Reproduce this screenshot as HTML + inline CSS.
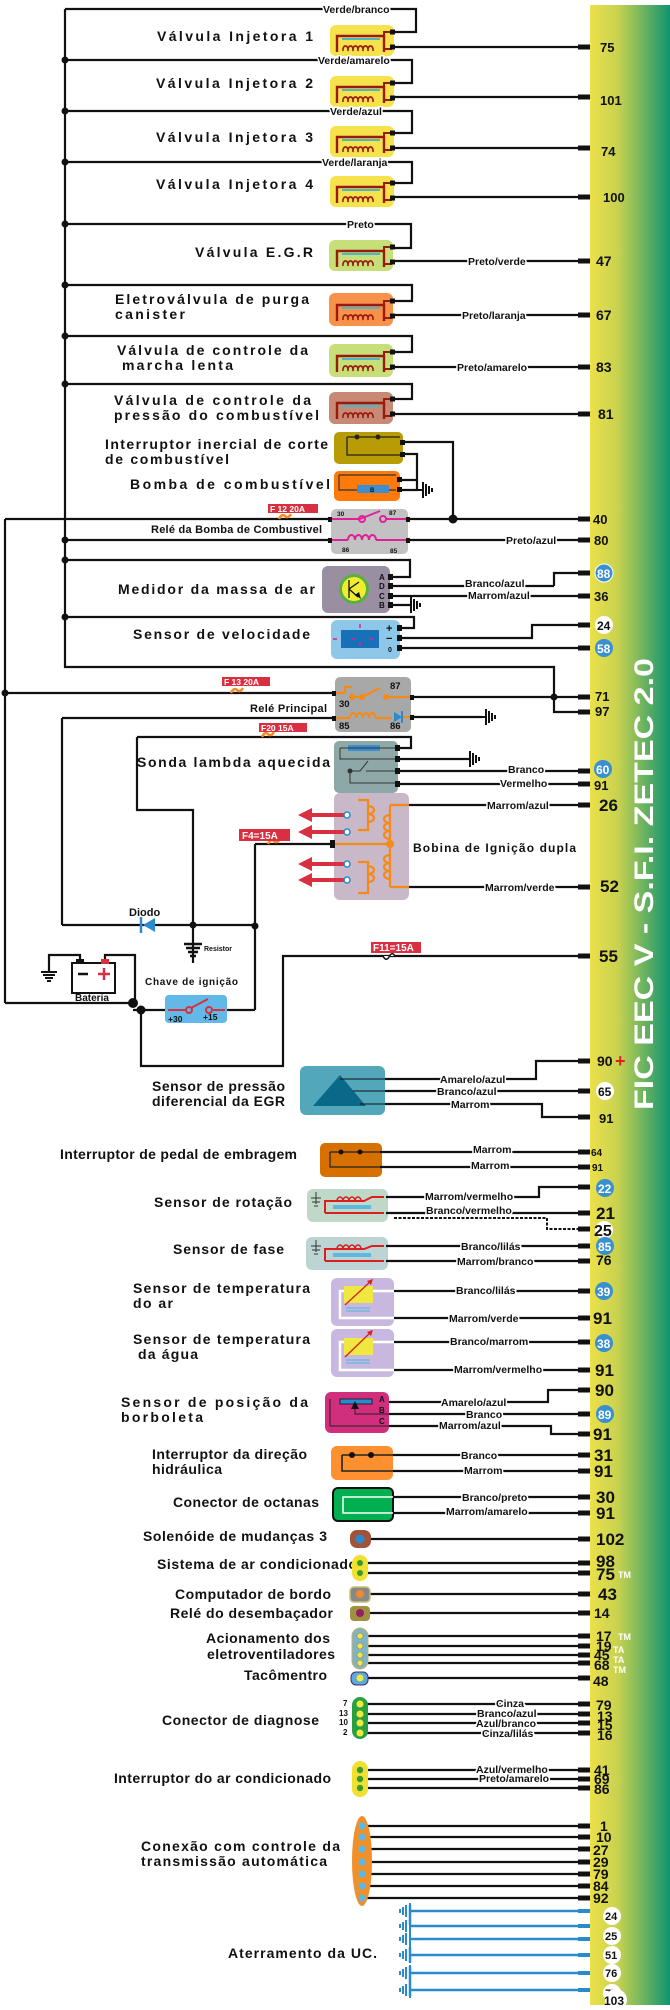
<!DOCTYPE html>
<html><head><meta charset="utf-8"><style>
html,body{margin:0;padding:0;background:#fff;width:670px;height:2010px;overflow:hidden}
svg{display:block}
text{font-family:"Liberation Sans",sans-serif;font-weight:bold;fill:#111}
.L{font-size:14px}
.w{font-size:10.5px;stroke:#fff;stroke-width:3;paint-order:stroke}
.n{font-size:13px}
.N{font-size:17px}
.k{stroke:#111;stroke-width:2.2;fill:none}
</style></head><body>
<svg width="670" height="2010" viewBox="0 0 670 2010" xmlns="http://www.w3.org/2000/svg">
<defs>
<linearGradient id="bar" x1="0" x2="1" y1="0" y2="0">
<stop offset="0" stop-color="#ece04a"/><stop offset="0.35" stop-color="#c8d250"/><stop offset="1" stop-color="#0e9470"/></linearGradient>
<symbol id="coil" overflow="visible">
<path d="M8 27V11H55V27" stroke="#9a1a10" stroke-width="2.4" fill="none"/>
<line x1="13" y1="14" x2="51" y2="14" stroke="#4ab8c8" stroke-width="2"/>
<path d="M14 26a2.6 4 0 1 1 5 0a2.6 4 0 1 1 5 0a2.6 4 0 1 1 5 0a2.6 4 0 1 1 5 0a2.6 4 0 1 1 5 0a2.6 4 0 1 1 5 0" stroke="#9a1a10" fill="none" stroke-width="1.6"/>
<path d="M55 11V7H63M55 24H63" stroke="#9a1a10" stroke-width="2" fill="none"/>
<rect x="61" y="4.5" width="5" height="5" fill="#111"/><rect x="61" y="19.5" width="5" height="5" fill="#111"/>
</symbol>
<symbol id="gnd" overflow="visible">
<path d="M0 0H6M6 -8V8M9 -6V6M12 -4V4M15 -2V2" stroke="#111" stroke-width="2" fill="none"/></symbol>
<symbol id="stub" overflow="visible"><rect x="-12" y="-2.5" width="12" height="5" fill="#111"/></symbol>
<symbol id="bgnd" overflow="visible">
<path d="M0 -8V8M-4 -6V6M-7 -4V4M-10 -2V2" stroke="#2a8ad0" stroke-width="2" fill="none"/></symbol>
</defs>

<!-- ECU bar -->
<rect x="590" y="5" width="80" height="2000" fill="url(#bar)"/>
<text transform="translate(653,1110) rotate(-90)" font-size="27" style="fill:#fff" textLength="452" lengthAdjust="spacingAndGlyphs">FIC EEC V - S.F.I. ZETEC 2.0</text>

<!-- main bus -->
<path class="k" d="M65 9V667H554V712H588"/>
<path class="k" d="M5 519V1003"/>
<g fill="#111">
<circle cx="65" cy="60" r="3.5"/><circle cx="65" cy="111" r="3.5"/><circle cx="65" cy="162" r="3.5"/><circle cx="65" cy="224" r="3.5"/><circle cx="65" cy="285" r="3.5"/><circle cx="65" cy="336" r="3.5"/><circle cx="65" cy="384" r="3.5"/><circle cx="65" cy="540" r="3.5"/><circle cx="65" cy="560" r="3.5"/><circle cx="65" cy="617" r="3.5"/>
</g>

<!-- injectors & valves -->
<g>
<path class="k" d="M65 9H416V32H393"/><path class="k" d="M393 47H588"/>
<rect x="330" y="25" width="64" height="31" rx="6" fill="#f6e24a"/><use href="#coil" x="329" y="25"/>
<text class="w" x="323" y="13">Verde/branco</text>
<text class="L" x="157" y="41" textLength="156" font-size="15">Válvula Injetora 1</text>

<path class="k" d="M65 60H412V83H393"/><path class="k" d="M393 97H588"/>
<rect x="330" y="76" width="64" height="31" rx="6" fill="#f6e24a"/><use href="#coil" x="329" y="76"/>
<text class="w" x="318" y="64">Verde/amarelo</text>
<text class="L" x="156" y="88" textLength="157">Válvula Injetora 2</text>

<path class="k" d="M65 111H412V133H393"/><path class="k" d="M393 148H588"/>
<rect x="330" y="126" width="64" height="31" rx="6" fill="#f6e24a"/><use href="#coil" x="329" y="126"/>
<text class="w" x="330" y="115">Verde/azul</text>
<text class="L" x="156" y="142" textLength="157">Válvula Injetora 3</text>

<path class="k" d="M65 162H412V183H393"/><path class="k" d="M393 197H588"/>
<rect x="330" y="176" width="64" height="31" rx="6" fill="#f6e24a"/><use href="#coil" x="329" y="176"/>
<text class="w" x="322" y="166">Verde/laranja</text>
<text class="L" x="156" y="189" textLength="157">Válvula Injetora 4</text>

<path class="k" d="M65 224H411V248H393"/><path class="k" d="M393 261H588"/>
<rect x="329" y="240" width="64" height="31" rx="6" fill="#c6df78"/><use href="#coil" x="329" y="240"/>
<text class="w" x="347" y="228">Preto</text><text class="w" x="468" y="265">Preto/verde</text>
<text class="L" x="195" y="257" textLength="118">Válvula E.G.R</text>

<path class="k" d="M65 285H412V301H393"/><path class="k" d="M393 315H588"/>
<rect x="329" y="293" width="64" height="33" rx="6" fill="#f8924a"/><use href="#coil" x="329" y="294"/>
<text class="w" x="462" y="319">Preto/laranja</text>
<text class="L" x="115" y="304" textLength="194">Eletroválvula de purga</text>
<text class="L" x="115" y="319" textLength="70">canister</text>

<path class="k" d="M65 336H412V352H393"/><path class="k" d="M393 367H588"/>
<rect x="329" y="344" width="64" height="33" rx="6" fill="#c6df78"/><use href="#coil" x="329" y="345"/>
<text class="w" x="457" y="371">Preto/amarelo</text>
<text class="L" x="117" y="355" textLength="191">Válvula de controle da</text>
<text class="L" x="122" y="370" textLength="111">marcha lenta</text>

<path class="k" d="M65 384H412V399H393"/><path class="k" d="M393 414H588"/>
<rect x="329" y="392" width="64" height="32" rx="6" fill="#c88a74"/><use href="#coil" x="329" y="392"/>
<text class="L" x="114" y="405" textLength="197">Válvula de  controle da</text>
<text class="L" x="114" y="420" textLength="205">pressão do combustível</text>
</g>

<!-- inertial switch & pump -->
<rect x="334" y="432" width="69" height="32" rx="5" fill="#b89c06"/>
<path d="M347 437H385M347 437V455H400M355 437M385 437H400" stroke="#222" stroke-width="1.3" fill="none"/>
<circle cx="357" cy="437" r="2.5" fill="#222"/><circle cx="378" cy="437" r="2.5" fill="#222"/>
<rect x="400" y="440" width="5" height="5" fill="#111"/><rect x="400" y="452" width="5" height="5" fill="#111"/>
<path class="k" d="M403 442H453V519"/><path class="k" d="M403 454H417V490H399M399 480H417"/>
<rect x="334" y="471" width="66" height="30" rx="5" fill="#ff7a08"/>
<path d="M339 475H396M339 475V490H396" stroke="#333" stroke-width="1.2" fill="none"/>
<rect x="357" y="485" width="32" height="8" fill="#3c8ed0"/><text x="370" y="492" font-size="6">B</text>
<rect x="397" y="477" width="5" height="5" fill="#111"/><rect x="397" y="487" width="5" height="5" fill="#111"/>
<use href="#gnd" x="417" y="490"/>
<text class="L" x="105" y="449" textLength="223" font-weight="normal">Interruptor inercial de corte</text>
<text class="L" x="105" y="464" textLength="124">de combustível</text>
<text class="L" x="130" y="489" textLength="200" font-size="15">Bomba de combustível</text>

<!-- fuel pump relay -->
<path class="k" d="M5 519H331"/><path class="k" d="M407 519H588"/><circle cx="453" cy="519" r="4.5" fill="#111"/>
<path d="M279 519q3 -6 6 -3q3 3 6 -2" stroke="#f88a20" stroke-width="2.5" fill="none"/>
<rect x="268" y="504" width="50" height="9" fill="#d83040"/><text x="270" y="512" font-size="8.5" style="fill:#fff">F 12 20A</text>
<path class="k" d="M65 540H331M407 540H588"/>
<rect x="331" y="509" width="77" height="45" rx="5" fill="#c2c2c2"/>
<path d="M331 519H360M385 519H407M360 519L380 511M331 540H348M376 540H407" stroke="#e0209a" stroke-width="2" fill="none"/>
<circle cx="362" cy="519" r="3" fill="none" stroke="#e0209a" stroke-width="2"/><circle cx="383" cy="519" r="3" fill="none" stroke="#e0209a" stroke-width="2"/>
<path d="M348 540a3.5 5 0 0 1 7 0a3.5 5 0 0 1 7 0a3.5 5 0 0 1 7 0a3.5 5 0 0 1 7 0" stroke="#e0209a" stroke-width="2" fill="none"/>
<text x="337" y="516" font-size="6.5">30</text><text x="389" y="515" font-size="6.5">87</text>
<text x="342" y="552" font-size="6.5">86</text><text x="390" y="553" font-size="6.5">85</text>
<rect x="328" y="517" width="4" height="5" fill="#111"/><rect x="406" y="517" width="4" height="5" fill="#111"/><rect x="328" y="538" width="4" height="5" fill="#111"/><rect x="406" y="538" width="4" height="5" fill="#111"/>
<text x="151" y="533" font-size="11" textLength="171">Relé da Bomba de Combustivel</text>
<text class="w" x="506" y="544" font-size="11">Preto/azul</text>

<!-- MAF -->
<path class="k" d="M65 560H410V577H390"/>
<path class="k" d="M390 586H554M554 586V573H588M390 596H588"/>
<rect x="322" y="566" width="68" height="47" rx="6" fill="#9a8ea2"/>
<circle cx="354" cy="589" r="15" fill="#58b040"/><circle cx="354" cy="589" r="12" fill="#f0ec30"/>
<path d="M349 580V598M349 589L359 582M349 589L358 597" stroke="#111" stroke-width="1.3"/><path d="M355 595l6 4l-2 -7z" fill="#111"/>
<g font-size="8"><text x="379" y="580">A</text><text x="379" y="589">D</text><text x="379" y="599">C</text><text x="379" y="608">B</text></g>
<g fill="#111"><rect x="388" y="574" width="5" height="6"/><rect x="388" y="583" width="5" height="6"/><rect x="388" y="593" width="5" height="6"/><rect x="388" y="602" width="5" height="6"/></g>
<path class="k" d="M391 605H411"/><use href="#gnd" x="405" y="605"/>
<text class="w" x="465" y="587" font-size="11">Branco/azul</text><text class="w" x="468" y="599" font-size="11">Marrom/azul</text>
<text class="L" x="118" y="594" textLength="197" font-size="15" font-weight="normal" style="font-weight:bold">Medidor da massa de ar</text>

<!-- speed sensor -->
<path class="k" d="M65 617H414V628H399"/>
<path class="k" d="M399 638H532V625H588M399 648H588"/>
<rect x="331" y="620" width="69" height="39" rx="6" fill="#8ec8e8"/>
<rect x="341" y="630" width="38" height="18" fill="#1870b8"/>
<path d="M360 624V654M333 639H387" stroke="#e0209a" stroke-width="1.5" stroke-dasharray="4 14"/>
<text x="386" y="632" font-size="11">+</text><text x="386" y="642" font-size="11">−</text><text x="388" y="652" font-size="7">0</text>
<g fill="#111"><rect x="397" y="625" width="5" height="6"/><rect x="397" y="635" width="5" height="6"/><rect x="397" y="645" width="5" height="6"/></g>
<text class="L" x="133" y="639" textLength="177">Sensor de velocidade</text>

<!-- main relay -->
<path class="k" d="M5 693H335"/><circle cx="5" cy="693" r="3.5" fill="#111"/>
<path d="M231 693q3 -6 6 -3q3 3 6 -2" stroke="#f88a20" stroke-width="2.5" fill="none"/>
<rect x="222" y="677" width="48" height="9" fill="#d83040"/><text x="224" y="685" font-size="8.5" style="fill:#fff">F 13 20A</text>
<path class="k" d="M411 697H588"/><circle cx="554" cy="697" r="3.5" fill="#111"/>
<rect x="335" y="677" width="76" height="55" rx="5" fill="#a8a8a8"/>
<path d="M335 693H345V687H352M352 693V697H362L380 688M384 697H411M335 718H350M375 718H392M402 717H411" stroke="#f68a18" stroke-width="2.2" fill="none"/>
<circle cx="352" cy="697" r="3" fill="#f68a18"/><circle cx="362" cy="697" r="3" fill="#f68a18"/><circle cx="386" cy="697" r="3" fill="#f68a18"/>
<path d="M350 718a3.2 5 0 0 1 6.4 0a3.2 5 0 0 1 6.4 0a3.2 5 0 0 1 6.4 0a3.2 5 0 0 1 6.4 0" stroke="#f68a18" stroke-width="2" fill="none"/>
<path d="M394 712l8 5l-8 5z" fill="#2a8ad0"/><path d="M402 711V723" stroke="#2a8ad0" stroke-width="2"/>
<text x="389" y="746" font-size="0"> </text>
<g font-size="9.5"><text x="389" y="745" font-size="0"></text><text x="389" y="746" font-size="0"></text></g>
<text x="390" y="745" font-size="0"></text>
<text x="339" y="707" font-size="9.5">30</text><text x="389" y="746" font-size="0"></text>
<text x="389" y="745" font-size="0"></text>
<text x="390" y="746" font-size="0"></text>
<text x="390" y="689" font-size="9.5">87</text><text x="339" y="729" font-size="9.5">85</text><text x="390" y="729" font-size="9.5">86</text>
<rect x="332" y="691" width="4" height="5" fill="#111"/><rect x="410" y="695" width="4" height="5" fill="#111"/><rect x="332" y="716" width="4" height="5" fill="#111"/><rect x="410" y="715" width="4" height="5" fill="#111"/>
<path class="k" d="M62 718H335M62 718V925M411 717H482"/><use href="#gnd" x="480" y="717"/>
<text x="250" y="712" font-size="11" textLength="77">Relé Principal</text>

<!-- lambda -->
<path class="k" d="M137 737H411V748H397M137 737V810H193V963"/>
<path d="M262 737q3 -6 6 -3q3 3 6 -2" stroke="#f88a20" stroke-width="2.5" fill="none"/>
<rect x="259" y="723" width="48" height="9" fill="#d83040"/><text x="261" y="731" font-size="8.5" style="fill:#fff">F20 15A</text>
<rect x="334" y="741" width="64" height="52" rx="5" fill="#8ea8a8"/>
<rect x="348" y="745" width="32" height="6" fill="#3c8ed0"/>
<path d="M340 748H395M340 748V759H395M350 771V783H395M350 771H360L368 761M366 771H395" stroke="#333" stroke-width="1" fill="none"/>
<circle cx="350" cy="771" r="2.5" fill="#333"/>
<g fill="#111"><rect x="395" y="745" width="5" height="6"/><rect x="395" y="756" width="5" height="6"/><rect x="395" y="768" width="5" height="6"/><rect x="395" y="781" width="5" height="6"/></g>
<path class="k" d="M398 759H470M398 771H588M398 784H588"/><use href="#gnd" x="464" y="759"/>
<text class="w" x="508" y="773" font-size="11">Branco</text><text class="w" x="500" y="787" font-size="11">Vermelho</text>
<text class="L" x="137" y="767" textLength="193">Sonda lambda aquecida</text>

<!-- coil -->
<rect x="334" y="793" width="75" height="107" rx="6" fill="#c8b8c8"/>
<path class="k" d="M409 805H588M409 887H588"/>
<g stroke="#f68a18" stroke-width="2.2" fill="none">
<path d="M358 800H368V830H358M358 862H368V893H358"/>
<path d="M390 805H409M390 887H409M390 805V887"/>
<path d="M368 806a6 4 0 0 1 0 8a6 4 0 0 1 0 8M368 866a6 4 0 0 1 0 8a6 4 0 0 1 0 8"/>
<path d="M390 815a6 4 0 0 0 0 8a6 4 0 0 0 0 8a6 4 0 0 0 0 8M390 855a6 4 0 0 0 0 8a6 4 0 0 0 0 8a6 4 0 0 0 0 8"/>
<path d="M333 844H390"/>
</g>
<circle cx="390" cy="844" r="4" fill="#f68a18"/>
<g fill="#d83040">
<path d="M312 813H346V817H312V822L298 815L312 808Z"/>
<path d="M312 830H346V834H312V839L298 832L312 825Z"/>
<path d="M312 862H346V866H312V871L298 864L312 857Z"/>
<path d="M312 878H346V882H312V887L298 880L312 873Z"/>
</g>
<g fill="#fff" stroke="#2a8ad0" stroke-width="1.5"><circle cx="347" cy="815" r="3"/><circle cx="347" cy="832" r="3"/><circle cx="347" cy="864" r="3"/><circle cx="347" cy="880" r="3"/></g>
<text class="w" x="487" y="809" font-size="11">Marrom/azul</text><text class="w" x="485" y="891" font-size="11">Marrom/verde</text>
<text x="413" y="852" font-size="12" textLength="163">Bobina de Ignição dupla</text>
<path class="k" d="M255 844H333M255 844V1010"/><rect x="330" y="840" width="5" height="8" fill="#111"/>
<path d="M268 844q3 -6 6 -3q3 3 6 -2" stroke="#f88a20" stroke-width="2.5" fill="none"/>
<rect x="239" y="829" width="51" height="12" fill="#d83040"/><text x="242" y="839" font-size="10" style="fill:#fff">F4=15A</text>

<!-- diode, resistor, battery, key -->
<path class="k" d="M62 925H255"/><circle cx="193" cy="925" r="3.5" fill="#111"/><circle cx="255" cy="926" r="3.5" fill="#111"/>
<path d="M155 918V932L143 925Z" fill="#2a8ad0"/><path d="M141 917V933" stroke="#2a8ad0" stroke-width="2.5"/>
<text x="129" y="916" font-size="11">Diodo</text>
<path d="M184 944H202M186 948H200M188 952H198M190 956H196M192 960H194" stroke="#111" stroke-width="2.5"/>
<text x="204" y="951" font-size="7">Resistor</text>
<path class="k" d="M49 972V955H80V963M105 963V955H135V1003M5 1003H135"/><use href="#gnd" x="49" y="966" transform="rotate(90 49 966)"/>
<rect x="72" y="963" width="43" height="30" fill="#fff" stroke="#111" stroke-width="2"/>
<rect x="76" y="959" width="8" height="5" fill="#111"/><rect x="101" y="959" width="8" height="5" fill="#d83040"/>
<path d="M78 974H88" stroke="#111" stroke-width="2.5"/><path d="M98 974H110M104 968V980" stroke="#d83040" stroke-width="2.5"/>
<text x="75" y="1001" font-size="10">Bateria</text>
<circle cx="133" cy="1003" r="5" fill="#111"/><circle cx="141" cy="1010" r="4.5" fill="#111"/>
<path class="k" d="M133 1010H165M227 1010H255M141 1010V1066H283V956H588"/>
<rect x="165" y="995" width="62" height="28" rx="4" fill="#62b8e6"/>
<path d="M168 1010H185M191 1008L208 999M213 1010H225" stroke="#d83040" stroke-width="2" fill="none"/>
<circle cx="189" cy="1010" r="3" fill="none" stroke="#d83040" stroke-width="2"/><circle cx="209" cy="1010" r="3" fill="none" stroke="#d83040" stroke-width="2"/>
<text x="168" y="1022" font-size="8.5">+30</text><text x="203" y="1020" font-size="8.5">+15</text>
<text x="145" y="985" font-size="10" textLength="93">Chave de ignição</text>
<path d="M383 956q3 6 6 1q3 -6 6 -1" stroke="#111" stroke-width="1.5" fill="#fff"/>
<rect x="371" y="942" width="50" height="11" fill="#d83040"/><text x="373" y="951" font-size="10" style="fill:#fff">F11=15A</text>

<!-- EGR pressure -->
<rect x="300" y="1066" width="85" height="49" rx="6" fill="#52a8ba"/>
<path d="M313 1106L340 1075L366 1106Z" fill="#0a6888"/>
<path d="M340 1079H385M353 1091H385M360 1104H385" stroke="#111" stroke-width="1"/>
<path class="k" d="M385 1079H536V1061H588M385 1091H588M385 1104H542V1117H588"/>
<text class="w" x="440" y="1083" font-size="11">Amarelo/azul</text><text class="w" x="437" y="1095" font-size="11">Branco/azul</text><text class="w" x="451" y="1108" font-size="11">Marrom</text>
<text class="L" x="152" y="1091" textLength="133" font-size="13.5">Sensor de pressão</text>
<text class="L" x="152" y="1106" textLength="133" font-size="13.5">diferencial da EGR</text>

<!-- embreagem -->
<rect x="320" y="1143" width="62" height="34" rx="5" fill="#d87000"/>
<path d="M330 1152H380M330 1152V1167H380" stroke="#222" stroke-width="1.2" fill="none"/><circle cx="341" cy="1152" r="2.5" fill="#111"/><circle cx="360" cy="1152" r="2.5" fill="#111"/>
<path class="k" d="M380 1152H588M380 1167H588"/>
<text class="w" x="473" y="1153" font-size="11">Marrom</text><text class="w" x="471" y="1169" font-size="11">Marrom</text>
<text class="L" x="60" y="1159" textLength="237" font-size="13.5">Interruptor de pedal de embragem</text>

<!-- rotação -->
<rect x="307" y="1189" width="81" height="33" rx="6" fill="#c0d8c8"/>
<path d="M316 1192V1204M311 1198H321M312 1202H320M314 1206H318" stroke="#333" stroke-width="1"/>
<path d="M384 1197H372L364 1201H334M325 1213V1201H334M325 1213H384" stroke="#d82020" stroke-width="2" fill="none"/>
<path d="M337 1201a3 4 0 0 1 6 0a3 4 0 0 1 6 0a3 4 0 0 1 6 0a3 4 0 0 1 6 0" stroke="#d82020" stroke-width="1.5" fill="none"/>
<rect x="333" y="1205" width="38" height="4" fill="#60b8e0"/>
<path class="k" d="M386 1197H539V1187H588M386 1213H588"/><path d="M394 1218H547V1229H588" stroke="#111" stroke-width="2" stroke-dasharray="3 1.5" fill="none"/>
<text class="w" x="425" y="1200" font-size="10.5">Marrom/vermelho</text><text class="w" x="426" y="1214" font-size="10.5">Branco/vermelho</text>
<text class="L" x="154" y="1207" textLength="138">Sensor de rotação</text>

<!-- fase -->
<rect x="306" y="1237" width="82" height="33" rx="6" fill="#bcd4d4"/>
<path d="M316 1240V1252M311 1246H321M312 1250H320M314 1254H318" stroke="#333" stroke-width="1"/>
<path d="M384 1246H372L364 1249H334M325 1261V1249H334M325 1261H384" stroke="#d82020" stroke-width="2" fill="none"/>
<path d="M337 1249a3 4 0 0 1 6 0a3 4 0 0 1 6 0a3 4 0 0 1 6 0a3 4 0 0 1 6 0" stroke="#d82020" stroke-width="1.5" fill="none"/>
<rect x="333" y="1253" width="38" height="4" fill="#60b8e0"/>
<path class="k" d="M386 1246H588M386 1261H588"/>
<text class="w" x="461" y="1250" font-size="11">Branco/lilás</text><text class="w" x="457" y="1265" font-size="11">Marrom/branco</text>
<text class="L" x="173" y="1254" textLength="111">Sensor de fase</text>

<!-- temp sensors -->
<g>
<rect x="331" y="1278" width="63" height="48" rx="6" fill="#c8b8e0"/>
<path d="M394 1291H340V1318H394" stroke="#fff" stroke-width="2.5" fill="none"/>
<rect x="344" y="1286" width="29" height="17" fill="#f0e840"/>
<path d="M345 1305L371 1281" stroke="#d82020" stroke-width="1.3"/><path d="M373 1279l-6 2l4 4z" fill="#d82020"/>
<path d="M346 1308H370M346 1311H370" stroke="#60b8e0" stroke-width="1.2"/>
<path class="k" d="M394 1291H588M394 1318H588"/>
<text class="w" x="456" y="1294" font-size="11">Branco/lilás</text><text class="w" x="449" y="1322" font-size="11">Marrom/verde</text>
<text class="L" x="133" y="1293" textLength="177">Sensor de temperatura</text><text class="L" x="133" y="1308" textLength="40">do ar</text>
</g>
<g>
<rect x="331" y="1329" width="63" height="48" rx="6" fill="#c8b8e0"/>
<path d="M394 1342H340V1370H394" stroke="#fff" stroke-width="2.5" fill="none"/>
<rect x="344" y="1338" width="29" height="17" fill="#f0e840"/>
<path d="M345 1357L371 1332" stroke="#d82020" stroke-width="1.3"/><path d="M373 1330l-6 2l4 4z" fill="#d82020"/>
<path d="M346 1360H370M346 1363H370" stroke="#60b8e0" stroke-width="1.2"/>
<path class="k" d="M394 1342H588M394 1370H588"/>
<text class="w" x="450" y="1345" font-size="11">Branco/marrom</text><text class="w" x="454" y="1373" font-size="10.5">Marrom/vermelho</text>
<text class="L" x="133" y="1344" textLength="177">Sensor de temperatura</text><text class="L" x="138" y="1359" textLength="60">da água</text>
</g>

<!-- TPS -->
<rect x="325" y="1392" width="64" height="41" rx="6" fill="#d22e7e"/>
<rect x="340" y="1399" width="32" height="5" fill="#2a8ad0" stroke="#111" stroke-width="0.8"/>
<path d="M355 1404V1414H389M330 1399V1426H389" stroke="#222" stroke-width="1" fill="none"/><path d="M355 1401l-4 8h8z" fill="#111"/>
<g font-size="8"><text x="379" y="1402">A</text><text x="379" y="1413">B</text><text x="379" y="1424">C</text></g>
<path class="k" d="M389 1402H548V1390H588M389 1414H588M389 1426H551V1434H588"/>
<text class="w" x="441" y="1406" font-size="11">Amarelo/azul</text><text class="w" x="466" y="1418" font-size="11">Branco</text><text class="w" x="439" y="1429" font-size="11">Marrom/azul</text>
<text class="L" x="121" y="1407" textLength="187" font-size="15">Sensor de posição da</text><text class="L" x="121" y="1422" textLength="82" font-size="15">borboleta</text>

<!-- direção -->
<rect x="331" y="1446" width="62" height="34" rx="6" fill="#ff9030"/>
<path d="M342 1455H393M342 1455V1471H393" stroke="#222" stroke-width="1.6" fill="none"/><circle cx="352" cy="1455" r="3" fill="#111"/><circle cx="371" cy="1455" r="3" fill="#111"/>
<path class="k" d="M393 1455H588M393 1471H588"/>
<text class="w" x="461" y="1459" font-size="11">Branco</text><text class="w" x="464" y="1474" font-size="11">Marrom</text>
<text class="L" x="152" y="1459" textLength="155">Interruptor da direção</text><text class="L" x="152" y="1474" textLength="70">hidráulica</text>

<!-- octanas -->
<rect x="333" y="1488" width="60" height="33" rx="5" fill="#00b050" stroke="#111" stroke-width="2"/>
<path d="M393 1497H343V1513H393" stroke="#fff" stroke-width="1.5" fill="none"/>
<path class="k" d="M393 1497H588M393 1513H588"/>
<text class="w" x="462" y="1501" font-size="11">Branco/preto</text><text class="w" x="446" y="1515" font-size="11">Marrom/amarelo</text>
<text class="L" x="173" y="1507" textLength="146">Conector de octanas</text>

<!-- solenoide -->
<path class="k" d="M360 1539H588"/>
<rect x="350" y="1530" width="21" height="18" rx="7" fill="#a0523a"/><circle cx="360" cy="1539" r="4.5" fill="#2a8ad0"/>
<text class="L" x="143" y="1541" textLength="184" font-size="13.5">Solenóide de mudanças 3</text>

<!-- lower connectors -->
<text class="L" x="157" y="1569" textLength="200" font-size="13.5">Sistema de ar condicionado</text>
<path class="k" d="M360 1563H588M360 1573H588"/>
<rect x="352" y="1555" width="16" height="26" rx="8" fill="#f0e030"/><circle cx="360" cy="1563" r="3" fill="#3a9a30"/><circle cx="360" cy="1573" r="3" fill="#3a9a30"/>

<path class="k" d="M360 1594H588"/><rect x="350" y="1587" width="20" height="15" rx="4" fill="#888" stroke="#c8c070" stroke-width="1.5"/><circle cx="360" cy="1594" r="4" fill="#f08830"/>
<text class="L" x="175" y="1599" textLength="156" font-size="13.5">Computador de bordo</text>
<path class="k" d="M360 1613H588"/><rect x="350" y="1606" width="20" height="15" rx="4" fill="#a09040"/><circle cx="360" cy="1613" r="4" fill="#902060"/>
<text class="L" x="170" y="1618" textLength="163" font-size="13.5">Relé do desembaçador</text>

<path class="k" d="M360 1636H588M360 1646H588M360 1655H588M360 1663H588M360 1678H588"/>
<rect x="352" y="1628" width="16" height="41" rx="8" fill="#80b4c4" stroke="#c8b070" stroke-width="1"/>
<g fill="#f0e840" stroke="#886" stroke-width="0.6"><circle cx="360" cy="1636" r="3"/><circle cx="360" cy="1646" r="3"/><circle cx="360" cy="1655" r="3"/><circle cx="360" cy="1663" r="3"/></g>
<rect x="351" y="1672" width="17" height="13" rx="5" fill="#60a8d8" stroke="#336" stroke-width="1"/><circle cx="360" cy="1678" r="3.5" fill="#f0e840"/>
<text class="L" x="206" y="1643" textLength="124" font-size="13.5">Acionamento dos</text>
<text class="L" x="207" y="1659" textLength="128" font-size="13.5">eletroventiladores</text>
<text class="L" x="244" y="1680" textLength="83" font-size="13.5">Tacômentro</text>

<path class="k" d="M360 1704H588M360 1714H588M360 1723H588M360 1733H588"/>
<rect x="352" y="1697" width="16" height="42" rx="8" fill="#28a040"/>
<g fill="#f0e840"><circle cx="360" cy="1704" r="3.5"/><circle cx="360" cy="1714" r="3.5"/><circle cx="360" cy="1723" r="3.5"/><circle cx="360" cy="1733" r="3.5"/></g>
<g font-size="8"><text x="343" y="1706">7</text><text x="339" y="1716">13</text><text x="339" y="1725">10</text><text x="343" y="1735">2</text></g>
<text class="w" x="496" y="1707" font-size="11">Cinza</text><text class="w" x="477" y="1717" font-size="11">Branco/azul</text><text class="w" x="476" y="1727" font-size="11">Azul/branco</text><text class="w" x="482" y="1737" font-size="11">Cinza/lilás</text>
<text class="L" x="162" y="1725" textLength="157" font-size="13.5">Conector de diagnose</text>

<path class="k" d="M360 1770H588M360 1779H588M360 1788H588"/>
<rect x="352" y="1761" width="16" height="36" rx="8" fill="#f0e030"/>
<g fill="#3a9a30"><circle cx="360" cy="1770" r="3.2"/><circle cx="360" cy="1779" r="3.2"/><circle cx="360" cy="1788" r="3.2"/></g>
<text class="w" x="476" y="1773" font-size="11">Azul/vermelho</text><text class="w" x="479" y="1782" font-size="11">Preto/amarelo</text>
<text class="L" x="114" y="1783" textLength="217" font-size="13.5">Interruptor do ar condicionado</text>

<path class="k" d="M362 1826H588M362 1837H588M362 1849H588M362 1862H588M362 1874H588M362 1886H588M362 1898H588"/>
<ellipse cx="362" cy="1861" rx="10" ry="45" fill="#f0902a"/>
<g fill="#5ab8e8"><circle cx="362" cy="1826" r="3.5"/><circle cx="362" cy="1837" r="3.5"/><circle cx="362" cy="1849" r="3.5"/><circle cx="362" cy="1862" r="3.5"/><circle cx="362" cy="1874" r="3.5"/><circle cx="362" cy="1886" r="3.5"/><circle cx="362" cy="1898" r="3.5"/></g>
<text class="L" x="141" y="1851" textLength="199" font-size="13.5">Conexão com controle da</text>
<text class="L" x="141" y="1866" textLength="186" font-size="13.5">transmissão automática</text>

<!-- ground -->
<g stroke="#2a8ad0" stroke-width="2.5" fill="none"><path d="M410 1911H588M410 1926H588M410 1939H588M410 1955H588M410 1973H588M410 1990H588M410 1905V1925M410 1947V1963M410 1966V1996"/></g>
<use href="#bgnd" x="410" y="1911"/><use href="#bgnd" x="410" y="1926"/><use href="#bgnd" x="410" y="1939"/><use href="#bgnd" x="410" y="1955"/><use href="#bgnd" x="410" y="1973"/><use href="#bgnd" x="410" y="1990"/>
<g fill="#2a8ad0"><rect x="578" y="1909" width="12" height="4"/><rect x="578" y="1924" width="12" height="4"/><rect x="578" y="1937" width="12" height="4"/><rect x="578" y="1953" width="12" height="4"/><rect x="578" y="1971" width="12" height="4"/><rect x="578" y="1988" width="12" height="4"/></g>
<text class="L" x="228" y="1958" textLength="149" font-size="14">Aterramento da UC.</text>

<!-- pin stubs -->
<g>
<use href="#stub" x="590" y="47"/><use href="#stub" x="590" y="97"/><use href="#stub" x="590" y="148"/><use href="#stub" x="590" y="197"/><use href="#stub" x="590" y="261"/><use href="#stub" x="590" y="315"/><use href="#stub" x="590" y="367"/><use href="#stub" x="590" y="414"/><use href="#stub" x="590" y="519"/><use href="#stub" x="590" y="540"/><use href="#stub" x="590" y="573"/><use href="#stub" x="590" y="596"/><use href="#stub" x="590" y="625"/><use href="#stub" x="590" y="648"/><use href="#stub" x="590" y="697"/><use href="#stub" x="590" y="712"/><use href="#stub" x="590" y="771"/><use href="#stub" x="590" y="784"/><use href="#stub" x="590" y="805"/><use href="#stub" x="590" y="887"/><use href="#stub" x="590" y="956"/>
<use href="#stub" x="590" y="1061"/><use href="#stub" x="590" y="1091"/><use href="#stub" x="590" y="1117"/><use href="#stub" x="590" y="1152"/><use href="#stub" x="590" y="1167"/><use href="#stub" x="590" y="1187"/><use href="#stub" x="590" y="1213"/><use href="#stub" x="590" y="1229"/><use href="#stub" x="590" y="1246"/><use href="#stub" x="590" y="1261"/><use href="#stub" x="590" y="1291"/><use href="#stub" x="590" y="1318"/><use href="#stub" x="590" y="1342"/><use href="#stub" x="590" y="1370"/><use href="#stub" x="590" y="1390"/><use href="#stub" x="590" y="1414"/><use href="#stub" x="590" y="1434"/><use href="#stub" x="590" y="1455"/><use href="#stub" x="590" y="1471"/><use href="#stub" x="590" y="1497"/><use href="#stub" x="590" y="1513"/><use href="#stub" x="590" y="1539"/>
<use href="#stub" x="590" y="1563"/><use href="#stub" x="590" y="1573"/><use href="#stub" x="590" y="1594"/><use href="#stub" x="590" y="1613"/><use href="#stub" x="590" y="1636"/><use href="#stub" x="590" y="1646"/><use href="#stub" x="590" y="1655"/><use href="#stub" x="590" y="1663"/><use href="#stub" x="590" y="1678"/><use href="#stub" x="590" y="1704"/><use href="#stub" x="590" y="1714"/><use href="#stub" x="590" y="1723"/><use href="#stub" x="590" y="1733"/><use href="#stub" x="590" y="1770"/><use href="#stub" x="590" y="1779"/><use href="#stub" x="590" y="1788"/>
<use href="#stub" x="590" y="1826"/><use href="#stub" x="590" y="1837"/><use href="#stub" x="590" y="1849"/><use href="#stub" x="590" y="1862"/><use href="#stub" x="590" y="1874"/><use href="#stub" x="590" y="1886"/><use href="#stub" x="590" y="1898"/>
</g>

<!-- pin numbers -->
<g class="n">
<text class="n" x="600" y="52">75</text><text class="n" x="600" y="105">101</text><text class="n" x="601" y="156">74</text><text class="n" x="603" y="202">100</text>
<text x="596" y="266" font-size="14" font-weight="normal">47</text><text x="596" y="320" font-size="14" font-weight="normal">67</text><text x="596" y="372" font-size="14" font-weight="normal">83</text><text x="598" y="419" font-size="14" font-weight="normal">81</text>
<text class="n" x="593" y="524">40</text><text class="n" x="594" y="545">80</text><text class="n" x="594" y="601">36</text>
<text class="n" x="595" y="701">71</text><text class="n" x="595" y="716">97</text><text class="n" x="594" y="790">91</text>
<text class="N" x="599" y="811">26</text><text class="N" x="600" y="892">52</text><text class="N" x="599" y="962">55</text>
<text x="597" y="1066" font-size="14" font-weight="normal">90</text><text x="615" y="1067" font-size="18" style="fill:#e02020">+</text>
<text x="599" y="1123" font-size="13">91</text>
<text x="591" y="1156" font-size="10">64</text><text x="592" y="1171" font-size="10">91</text>
<text class="N" x="596" y="1219">21</text><text x="596" y="1265" font-size="14" font-weight="normal">76</text>
<text class="N" x="593" y="1324">91</text><text class="N" x="595" y="1376">91</text>
<text class="N" x="595" y="1396" font-size="18">90</text><text class="N" x="593" y="1440" font-size="18">91</text>
<text class="N" x="594" y="1461">31</text><text class="N" x="594" y="1477">91</text><text class="N" x="596" y="1503">30</text><text class="N" x="596" y="1519">91</text>
<text class="N" x="596" y="1545" font-size="18">102</text>
<text class="N" x="596" y="1567" font-size="15">98</text><text class="N" x="596" y="1580" font-size="15">75</text><text x="618" y="1578" font-size="9" style="fill:#fff">TM</text>
<text class="N" x="598" y="1600" font-size="18">43</text><text x="594" y="1618" font-size="14" font-weight="normal">14</text>
<text x="596" y="1641" font-size="14">17</text><text x="618" y="1640" font-size="9" style="fill:#fff">TM</text>
<text x="596" y="1651" font-size="14">19</text><text x="613" y="1653" font-size="9" style="fill:#fff">TA</text>
<text x="594" y="1660" font-size="14">45</text><text x="613" y="1663" font-size="9" style="fill:#fff">TA</text>
<text x="594" y="1670" font-size="14">68</text><text x="613" y="1673" font-size="9" style="fill:#fff">TM</text>
<text x="593" y="1686" font-size="14" font-weight="normal">48</text>
<text x="596" y="1710" font-size="14">79</text><text x="597" y="1721" font-size="14">13</text><text x="597" y="1730" font-size="14">15</text><text x="597" y="1740" font-size="14">16</text>
<text x="594" y="1775" font-size="14">41</text><text x="594" y="1784" font-size="14">69</text><text x="594" y="1794" font-size="14">86</text>
<text x="600" y="1831" font-size="14" font-weight="normal">1</text><text x="596" y="1842" font-size="14" font-weight="normal">10</text><text x="593" y="1855" font-size="14" font-weight="normal">27</text><text x="593" y="1867" font-size="14" font-weight="normal">29</text><text x="593" y="1879" font-size="14" font-weight="normal">79</text><text x="593" y="1891" font-size="14" font-weight="normal">84</text><text x="593" y="1903" font-size="14" font-weight="normal">92</text>
</g>
<!-- circled numbers -->
<g font-size="12">
<circle cx="604" cy="573" r="9" fill="#3a8fd0" stroke="#fff" stroke-width="1"/><text x="597" y="578" style="fill:#fff">88</text>
<circle cx="604" cy="625" r="9" fill="#fff"/><text x="597" y="630">24</text>
<circle cx="604" cy="648" r="9" fill="#3a8fd0"/><text x="597" y="653" style="fill:#fff">58</text>
<circle cx="603" cy="769" r="9" fill="#3a8fd0"/><text x="596" y="774" style="fill:#fff">60</text>
<circle cx="605" cy="1091" r="9" fill="#fff"/><text x="598" y="1096" font-weight="normal">65</text>
<circle cx="605" cy="1188" r="9" fill="#3a8fd0"/><text x="598" y="1193" style="fill:#fff">22</text>
<circle cx="604" cy="1230" r="9" fill="#fff"/><text x="594" y="1236" font-size="16">25</text>
<circle cx="605" cy="1246" r="9" fill="#3a8fd0"/><text x="598" y="1251" style="fill:#fff">85</text>
<circle cx="604" cy="1291" r="9" fill="#3a8fd0"/><text x="597" y="1296" style="fill:#fff">39</text>
<circle cx="604" cy="1343" r="9" fill="#3a8fd0"/><text x="597" y="1348" style="fill:#fff">38</text>
<circle cx="605" cy="1414" r="9" fill="#3a8fd0"/><text x="598" y="1419" style="fill:#fff">89</text>
</g>
<g font-size="11" font-weight="normal">
<circle cx="612" cy="1916" r="9" fill="#fff"/><text x="605" y="1920">24</text>
<circle cx="612" cy="1936" r="9" fill="#fff"/><text x="605" y="1940">25</text>
<circle cx="612" cy="1955" r="9" fill="#fff"/><text x="605" y="1959">51</text>
<circle cx="612" cy="1973" r="9" fill="#fff"/><text x="605" y="1977">76</text>
<circle cx="612" cy="1993" r="9" fill="#fff"/><text x="605" y="1997">77</text>
<circle cx="616" cy="2000" r="11" fill="#fff"/><text x="604" y="2005" font-size="12">103</text>
</g>
</svg>
</body></html>
